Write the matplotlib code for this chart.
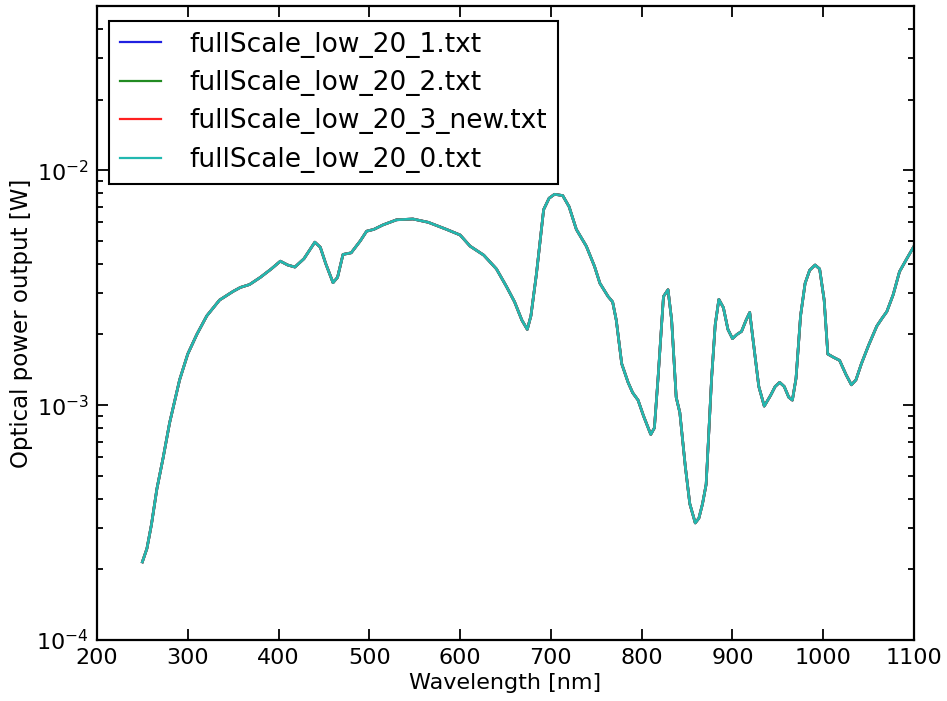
import matplotlib
matplotlib.use("Agg")
import matplotlib.pyplot as plt
from matplotlib.ticker import LogLocator, NullFormatter

# measured spectrum (same for every file of the full-scale low_20 series)
wavelength = [250, 255, 260, 266, 273, 280, 291, 300, 310, 321, 335, 350, 358, 368, 380,
              392, 402, 410, 418, 428, 440, 446, 452, 460, 465, 471, 480, 490, 497, 505,
              515, 530, 548, 565, 585, 600, 611, 626, 640, 651, 660, 668, 674, 678, 684,
              692, 698, 704, 713, 720, 728, 739, 748, 754, 763, 768, 772, 778, 785, 790,
              796, 802, 810, 814, 818, 824, 829, 833, 838, 842, 848, 853, 859, 863, 867,
              871, 877, 881, 885, 890, 895, 900, 905, 910, 915, 919, 925, 929, 935, 942,
              947, 952, 957, 962, 966, 970, 975, 980, 985, 991, 996, 1001, 1005, 1011,
              1018, 1025, 1031, 1036, 1042, 1050, 1059, 1065, 1070, 1077, 1084, 1092, 1100]
power = [2.15e-4, 2.45e-4, 3.1e-4, 4.4e-4, 6.0e-4, 8.4e-4, 1.28e-3, 1.65e-3, 2.0e-3, 2.4e-3,
         2.8e-3, 3.05e-3, 3.17e-3, 3.26e-3, 3.5e-3, 3.8e-3, 4.1e-3, 3.95e-3, 3.87e-3, 4.2e-3,
         4.94e-3, 4.7e-3, 4.0e-3, 3.32e-3, 3.5e-3, 4.38e-3, 4.45e-3, 5.0e-3, 5.5e-3, 5.6e-3,
         5.85e-3, 6.15e-3, 6.2e-3, 6.0e-3, 5.6e-3, 5.3e-3, 4.75e-3, 4.35e-3, 3.8e-3, 3.2e-3,
         2.75e-3, 2.3e-3, 2.1e-3, 2.4e-3, 3.6e-3, 6.8e-3, 7.6e-3, 7.9e-3, 7.8e-3, 7.0e-3,
         5.6e-3, 4.75e-3, 3.9e-3, 3.3e-3, 2.9e-3, 2.75e-3, 2.3e-3, 1.5e-3, 1.25e-3, 1.13e-3,
         1.05e-3, 9.0e-4, 7.5e-4, 8.0e-4, 1.3e-3, 2.9e-3, 3.1e-3, 2.3e-3, 1.08e-3, 9.3e-4,
         5.5e-4, 3.8e-4, 3.15e-4, 3.3e-4, 3.8e-4, 4.6e-4, 1.3e-3, 2.2e-3, 2.82e-3, 2.6e-3,
         2.1e-3, 1.92e-3, 2.0e-3, 2.06e-3, 2.3e-3, 2.48e-3, 1.6e-3, 1.2e-3, 9.9e-4, 1.1e-3,
         1.2e-3, 1.25e-3, 1.2e-3, 1.08e-3, 1.05e-3, 1.3e-3, 2.4e-3, 3.3e-3, 3.75e-3, 3.95e-3,
         3.8e-3, 2.8e-3, 1.65e-3, 1.6e-3, 1.55e-3, 1.35e-3, 1.22e-3, 1.28e-3, 1.5e-3, 1.8e-3,
         2.17e-3, 2.35e-3, 2.5e-3, 2.95e-3, 3.7e-3, 4.2e-3, 4.75e-3]

files = ["fullScale_low_20_1.txt", "fullScale_low_20_2.txt",
         "fullScale_low_20_3_new.txt", "fullScale_low_20_0.txt"]
colors = ["#2020e0", "#228b22", "#ff2020", "#22b8b0"]

fig = plt.figure(figsize=(9.47, 7.01), dpi=100)
ax = fig.add_axes([0.1024, 0.087, 0.8628, 0.9044])

for name, c in zip(files, colors):
    ax.plot(wavelength, power, color=c, lw=1.9, label=name)

ax.set_yscale("log")
ax.set_xlim(200, 1100)
ax.set_ylim(1e-4, 5e-2)
ax.set_xticks(range(200, 1101, 100))
ax.yaxis.set_major_locator(LogLocator(base=10, numticks=10))
ax.yaxis.set_minor_locator(LogLocator(base=10, subs=range(2, 10), numticks=20))
ax.yaxis.set_minor_formatter(NullFormatter())

ax.tick_params(which="both", direction="in", top=True, right=True, width=1.3)
ax.tick_params(which="major", length=8, labelsize=16, pad=6)
ax.tick_params(which="minor", length=4)
for s in ax.spines.values():
    s.set_linewidth(1.6)

ax.set_xlabel("Wavelength [nm]", fontsize=16, labelpad=3)
ax.set_ylabel("Optical power output [W]", fontsize=16.5, labelpad=2)

leg = ax.legend(loc="upper left", bbox_to_anchor=(0.015, 0.977), borderaxespad=0,
                fontsize=19, fancybox=False, framealpha=1, handlelength=1.55,
                handletextpad=1.05, labelspacing=0.47, borderpad=0.42)
leg.get_frame().set_edgecolor("black")
leg.get_frame().set_linewidth(1.5)
for ln in leg.get_lines():
    ln.set_linewidth(1.6)

fig.savefig("out.png", dpi=100)
